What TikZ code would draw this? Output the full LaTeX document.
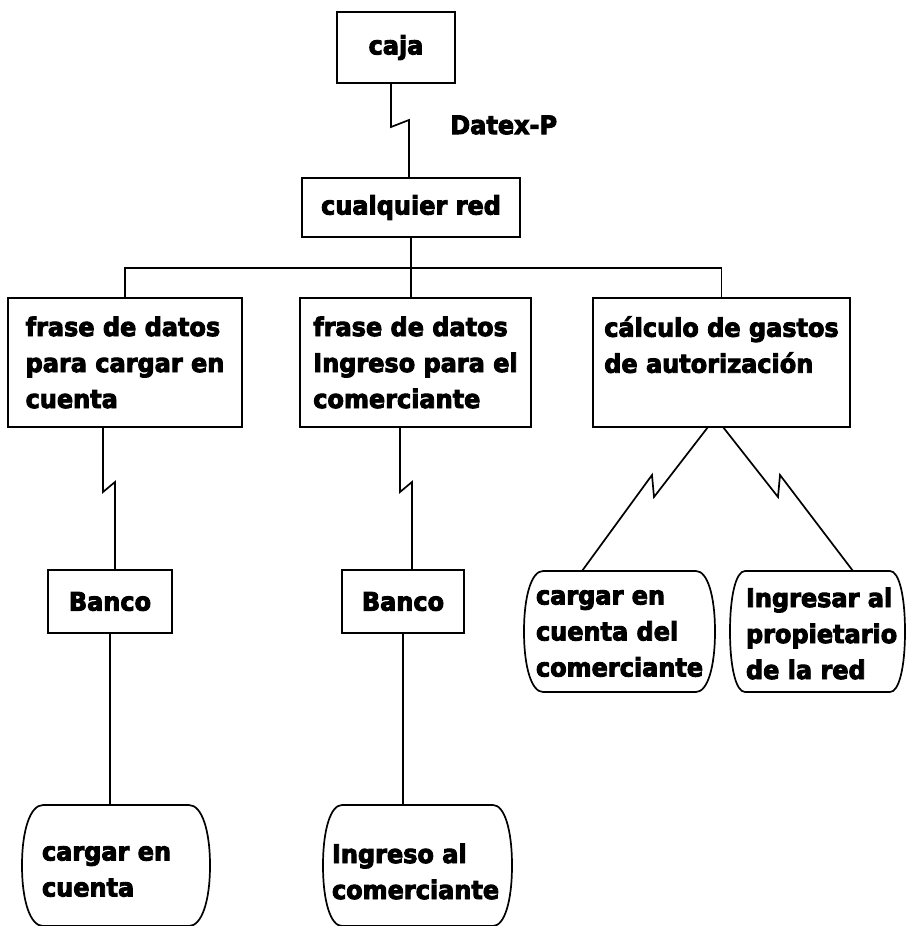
\documentclass[tikz,border=0pt]{standalone}
\usepackage{fontspec}
\setmainfont{DejaVu Sans}[BoldFeatures={FakeBold=3.5,FakeStretch=0.94}]
\usetikzlibrary{calc}
% barrel outline around a node: #1 node name, #2 corner inset
\newcommand\drawbarrel[2]{%
  \draw[conn] ($(#1.north west)+(#2,0)$) -- ($(#1.north east)+(-#2,0)$)
    .. controls ($(#1.north east)+(-#2*0.4,0)$) and ($(#1.east)+(0,-36)$) .. (#1.east)
    .. controls ($(#1.east)+(0,36)$) and ($(#1.south east)+(-#2*0.4,0)$) .. ($(#1.south east)+(-#2,0)$)
    -- ($(#1.south west)+(#2,0)$)
    .. controls ($(#1.south west)+(#2*0.4,0)$) and ($(#1.west)+(0,36)$) .. (#1.west)
    .. controls ($(#1.west)+(0,-36)$) and ($(#1.north west)+(#2*0.4,0)$) .. ($(#1.north west)+(#2,0)$) -- cycle;}
\begin{document}
\begin{tikzpicture}[x=1pt,y=-1pt,
  every node/.style={font=\fontsize{25.5}{36}\selectfont\bfseries, outer sep=0pt},
  rbox/.style={draw, line width=1.7pt, align=left, inner sep=0pt},
  barrel/.style={inner sep=0pt, minimum height=121},
  lbl/.style={anchor=west, align=left, inner sep=0pt},
  conn/.style={line width=1.7pt, line join=miter}]
\useasboundingbox[fill=white] (0,0) rectangle (905,926);

% boxes
\node[rbox, minimum width=118, minimum height=71] (caja) at (396,47.5) {caja};
\node[rbox, minimum width=218, minimum height=59] (red) at (411,207.5) {cualquier red};
\node[anchor=west] (datex) at (447,125) {Datex-P};
\node[rbox, minimum width=234, minimum height=129] (b1) at (125,362.5) {frase de datos\\para cargar en\\cuenta};
\node[rbox, minimum width=231, minimum height=129] (b2) at (415.5,362.5) {frase de datos\\Ingreso para el\\comerciante};
\node[rbox, minimum width=257, minimum height=129] (b3) at (721.5,362.5) {cálculo de gastos\\de autorización\\\mbox{}};
\node[rbox, minimum width=124, minimum height=63] (k1) at (110,601.5) {Banco};
\node[rbox, minimum width=122, minimum height=63] (k2) at (403,601.5) {Banco};

% barrel shapes
\node[barrel, minimum width=188, label={[lbl, xshift=20pt, yshift=-6pt]west:{cargar en\\cuenta}}] (s1) at (116,865.5) {};
\node[barrel, minimum width=189, label={[lbl, xshift=9pt, yshift=-6pt]west:{Ingreso al\\comerciante}}] (s2) at (417.5,865.5) {};
\node[barrel, minimum width=191, label={[lbl, xshift=12pt, yshift=-2pt]west:{cargar en\\cuenta del\\comerciante}}] (s3) at (619.5,631.5) {};
\node[barrel, minimum width=175, label={[lbl, xshift=16pt, yshift=-2pt]west:{Ingresar al\\propietario\\de la red}}] (s4) at (817.5,631.5) {};
\drawbarrel{s1}{21}
\drawbarrel{s2}{19}
\drawbarrel{s3}{19}
\drawbarrel{s4}{15}

% connectors
\coordinate (z0a) at (391,127); \coordinate (z0b) at (409,120);
\draw[conn] (caja.south -| z0a) -- (z0a) -- (z0b) -- (red.north -| z0b);
\draw[conn] (red.south) -- (red.south |- b2.north);
\coordinate (busy) at (0,268);
\draw[conn] (b1.north) -- (b1.north |- busy) -- (b3.north |- busy) -- (b3.north);

\coordinate (z1a) at (103,492); \coordinate (z1b) at (115,482);
\draw[conn] (b1.south -| z1a) -- (z1a) -- (z1b) -- (k1.north -| z1b);
\coordinate (z2a) at (400,492); \coordinate (z2b) at (412,482);
\draw[conn] (b2.south -| z2a) -- (z2a) -- (z2b) -- (k2.north -| z2b);

\draw[conn] (k1.south) -- (k1.south |- s1.north);
\draw[conn] (k2.south) -- (k2.south |- s2.north);

\coordinate (z3a) at (654,497); \coordinate (z3b) at (652,475); \coordinate (z3e) at (582,0);
\draw[conn] ($(b3.south)+(-13.5,0)$) -- (z3a) -- (z3b) -- (s3.north -| z3e);
\coordinate (z4a) at (778,497); \coordinate (z4b) at (780,475); \coordinate (z4e) at (853,0);
\draw[conn] ($(b3.south)+(1.5,0)$) -- (z4a) -- (z4b) -- (s4.north -| z4e);
\end{tikzpicture}
\end{document}
